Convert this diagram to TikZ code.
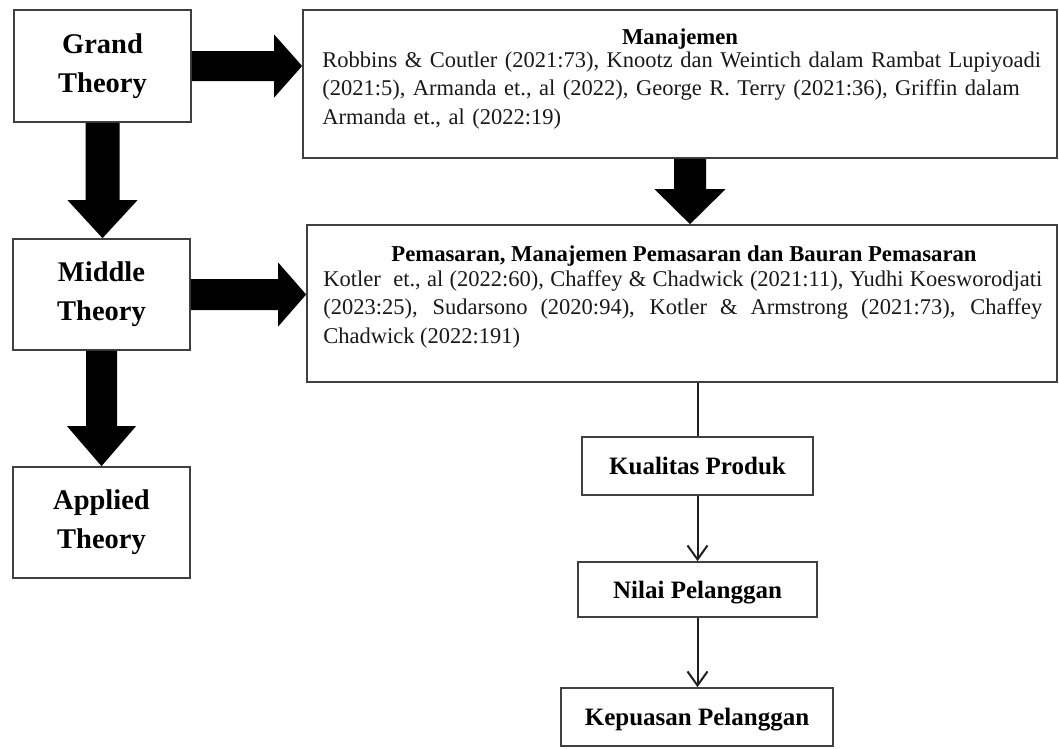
\documentclass[tikz,border=0pt]{standalone}
\usepackage{fontspec}
\setmainfont{Liberation Serif}
\usetikzlibrary{calc,arrows.meta}

% thick block arrow pointing right: from, to, half shaft, half head, head length
\newcommand{\fatright}[5]{%
  \fill[fat] ($(#1)+(0,-#3)$) -- ($(#2|-#1)+(-#5,-#3)$) -- ($(#2|-#1)+(-#5,-#4)$)
    -- (#2|-#1) -- ($(#2|-#1)+(-#5,#4)$) -- ($(#2|-#1)+(-#5,#3)$) -- ($(#1)+(0,#3)$) -- cycle;}
% thick block arrow pointing down: from, to, half shaft, half head, head length
\newcommand{\fatdown}[5]{%
  \fill[fat] ($(#1)+(-#3,0)$) -- ($(#1|-#2)+(-#3,-#5)$) -- ($(#1|-#2)+(-#4,-#5)$)
    -- (#1|-#2) -- ($(#1|-#2)+(#4,-#5)$) -- ($(#1|-#2)+(#3,-#5)$) -- ($(#1)+(#3,0)$) -- cycle;}

\begin{document}
\begin{tikzpicture}[x=1pt,y=-1pt,
  box/.style={draw=black!75, line width=1.7pt, fill=white, inner sep=0pt, align=center, text=black},
  theory/.style={box, minimum width=177pt, minimum height=111pt,
    font=\bfseries\fontsize{28.5}{39}\selectfont},
  refbox/.style={box},
  var/.style={box, font=\bfseries\fontsize{25}{30}\selectfont, text height=17pt, text depth=0pt},
  head/.style={inner sep=0pt, text=black, font=\bfseries\fontsize{22.7}{27}\selectfont},
  body/.style={inner sep=0pt, text=black!90, text width=719pt, font=\fontsize{22.5}{28.5}\selectfont},
  fat/.style={fill=black},
  link/.style={draw=black!88, line width=2pt},
  flow/.style={link, -{Straight Barb[length=14pt,width=20pt]}},
]
\useasboundingbox[fill=white] (0,0) rectangle (1059,748);

% theory levels
\node[theory, minimum height=112pt] (grand)   at (102.5,66)   {Grand\\Theory};
\node[theory] (middle)  at (101.5,294.5) {Middle\\Theory};
\node[theory] (applied) at (101.5,522.5) {Applied\\Theory};

% reference boxes
\node[refbox, minimum width=754pt, minimum height=148pt] (man) at (680,84) {};
\node[refbox, minimum width=750pt, minimum height=157pt] (pem) at (682,303.5) {};

\node[head, anchor=base] at ($(man.north)+(0,35)$) {Manajemen};
\node[body, anchor=base west, align=left] at ($(man.north west)+(20,58)$)
  {Robbins \& Coutler (2021:73), Knootz dan Weintich dalam Rambat Lupiyoadi\\
   (2021:5), Armanda et., al (2022), George R. Terry (2021:36), Griffin dalam\\
   Armanda et., al (2022:19)};

\node[head, anchor=base] at ($(pem.north)+(2,37)$) {Pemasaran, Manajemen Pemasaran dan Bauran Pemasaran};
\node[body, anchor=base west, align=justify] at ($(pem.north west)+(17,62)$)
  {Kotler\ \ et., al (2022:60), Chaffey \& Chadwick (2021:11), Yudhi Koesworodjati\linebreak
   (2023:25), Sudarsono (2020:94), Kotler \& Armstrong (2021:73), Chaffey\linebreak
   Chadwick (2022:191)};

% variables
\node[var, minimum width=231pt, minimum height=58pt] (kual)  at (697.5,466)   {Kualitas Produk};
\node[var, minimum width=239pt, minimum height=55pt] (nilai) at (697.5,589.5) {Nilai Pelanggan};
\node[var, minimum width=272pt, minimum height=58pt] (kep)   at (697,717)     {Kepuasan Pelanggan};

% block arrows
\fatright{grand.east}{man.west}{15}{31.5}{28}
\fatright{middle.east}{pem.west}{15.5}{32}{28}
\fatdown{grand.south}{middle.north}{17}{35}{38}
\fatdown{middle.south}{applied.north}{15.5}{34.5}{40}
\coordinate (ms) at ($(man.south)+(10,0)$);
\fatdown{ms}{pem.north}{16}{35.5}{35}

% variable chain
\draw[link] (kual.north |- pem.south) -- (kual.north);
\draw[flow] (kual.south) -- (kual.south |- nilai.north);
\draw[flow] (nilai.south) -- (nilai.south |- kep.north);
\end{tikzpicture}
\end{document}
